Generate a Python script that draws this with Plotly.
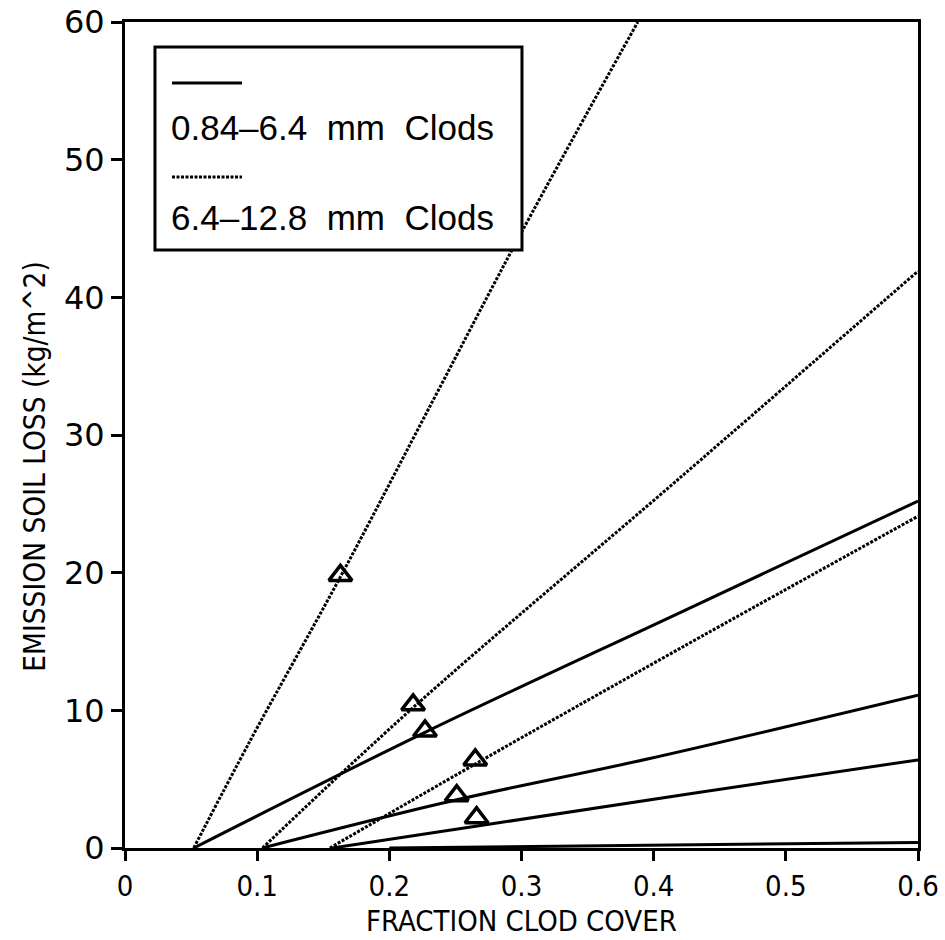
import plotly.graph_objects as go

# Solid lines: 0.84-6.4 mm clods
s1_x = [0.052, 0.227, 0.42, 0.6]
s1_y = [0.0, 8.4, 17.1, 25.2]
s2_x = [0.104, 0.251, 0.397, 0.6]
s2_y = [0.0, 3.5, 6.5, 11.1]
s3_x = [0.157, 0.284, 0.435, 0.6]
s3_y = [0.0, 1.85, 4.05, 6.4]
s4_x = [0.2, 0.6]
s4_y = [0.0, 0.4]

# Dotted lines: 6.4-12.8 mm clods
d1_x = [0.052, 0.095, 0.163, 0.233, 0.301, 0.388]
d1_y = [0.0, 7.85, 19.7, 32.5, 44.9, 60.0]
d2_x = [0.104, 0.218, 0.42, 0.6]
d2_y = [0.0, 10.2, 26.9, 41.9]
d3_x = [0.155, 0.265, 0.42, 0.6]
d3_y = [0.0, 6.1, 14.5, 24.1]

# Observed points (triangles)
obs_x = [0.163, 0.218, 0.227, 0.265, 0.251, 0.266]
obs_y = [19.8, 10.4, 8.5, 6.4, 3.8, 2.2]

x_ticks = [0, 0.1, 0.2, 0.3, 0.4, 0.5, 0.6]
x_tick_text = ["0", "0.1", "0.2", "0.3", "0.4", "0.5", "0.6"]
y_ticks = [0, 10, 20, 30, 40, 50, 60]

legend_labels = ["0.84\u20136.4  mm  Clods", "6.4\u201312.8  mm  Clods"]

SOLID = dict(color="black", width=3)
DOT = dict(color="black", width=3, dash="3px,1.5px")

fig = go.Figure()
for xs, ys in [(s1_x, s1_y), (s2_x, s2_y), (s3_x, s3_y), (s4_x, s4_y)]:
    fig.add_trace(go.Scatter(x=xs, y=ys, mode="lines", line=SOLID,
                             line_shape="spline", showlegend=False))
for xs, ys in [(d1_x, d1_y), (d2_x, d2_y), (d3_x, d3_y)]:
    fig.add_trace(go.Scatter(x=xs, y=ys, mode="lines", line=DOT,
                             line_shape="spline", showlegend=False))
fig.add_trace(go.Scatter(x=obs_x, y=obs_y, mode="markers",
                         marker=dict(symbol="triangle-up-open", size=20,
                                     color="black", line=dict(width=3.5, color="black")),
                         showlegend=False))

cond = "DejaVu Sans Condensed, Liberation Sans, Arial, sans-serif"

fig.update_layout(
    width=945, height=940,
    margin=dict(l=125, r=27, t=22, b=92),
    paper_bgcolor="white", plot_bgcolor="white",
    xaxis=dict(range=[0, 0.6], tickvals=x_ticks, ticktext=x_tick_text,
               automargin=False,
               showgrid=False, zeroline=False, showline=True, linecolor="black",
               linewidth=3, mirror=True, ticks="outside", ticklen=10, tickwidth=2.5,
               tickcolor="black",
               tickfont=dict(family=cond, size=29, color="black")),
    yaxis=dict(range=[0, 60], tickvals=y_ticks, automargin=False,
               showgrid=False, zeroline=False, showline=True, linecolor="black",
               linewidth=3, mirror=True, ticks="outside", ticklen=11, tickwidth=2.5,
               tickcolor="black",
               tickfont=dict(family="DejaVu Sans, sans-serif", size=32, color="black")),
    showlegend=False,
)

# axis titles
fig.add_annotation(text="FRACTION CLOD COVER", xref="paper", yref="paper",
                   x=0.5, y=-0.0655, xanchor="center", yanchor="top", showarrow=False,
                   font=dict(family=cond, size=29, color="black"))
fig.add_annotation(text="EMISSION SOIL LOSS (kg/m^2)", xref="paper", yref="paper",
                   x=-0.113, y=0.462, xanchor="center", yanchor="middle", showarrow=False,
                   textangle=-90,
                   font=dict(family=cond, size=29.5, color="black"))

# legend box
fig.add_shape(type="rect", xref="paper", yref="paper",
              x0=0.0378, x1=0.5006, y0=0.724, y1=0.9697,
              line=dict(color="black", width=3), fillcolor="white", layer="above")
fig.add_shape(type="line", xref="paper", yref="paper",
              x0=0.0593, x1=0.1475, y0=0.926, y1=0.926, line=SOLID, layer="above")
fig.add_shape(type="line", xref="paper", yref="paper",
              x0=0.0593, x1=0.1475, y0=0.8123, y1=0.8123, line=DOT, layer="above")
fig.add_annotation(text=legend_labels[0], xref="paper", yref="paper",
                   x=0.0555, y=0.872, xanchor="left", yanchor="middle", showarrow=False,
                   font=dict(family="Liberation Sans, Arial, sans-serif", size=35, color="black"))
fig.add_annotation(text=legend_labels[1], xref="paper", yref="paper",
                   x=0.0555, y=0.763, xanchor="left", yanchor="middle", showarrow=False,
                   font=dict(family="Liberation Sans, Arial, sans-serif", size=35, color="black"))

fig.write_html("out.html", config={"displayModeBar": False},
               post_script="document.body.style.margin='0';document.body.style.overflow='hidden';")
